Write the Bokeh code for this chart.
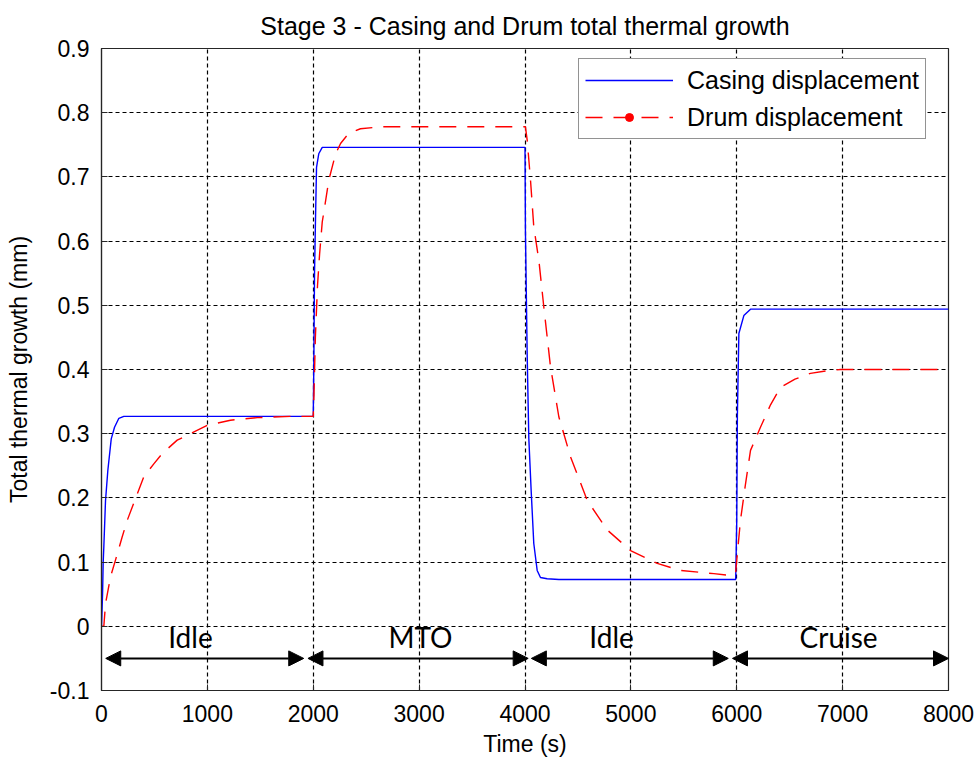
from bokeh.plotting import figure
from bokeh.models import (ColumnDataSource, Legend, LegendItem, Arrow, NormalHead,
                          FixedTicker, Range1d)
from bokeh.core.properties import value
from bokeh.embed import file_html
from bokeh.resources import INLINE

# ---------------- data ----------------
casing_t = [0, 10, 16, 22, 38, 60, 92, 123, 164, 211, 2000, 2005, 2012, 2021, 2031,
            2052, 2085, 4000, 4004, 4021, 4036, 4058, 4083, 4115, 4146, 4209, 4320,
            5990, 6000, 6006, 6020, 6067, 6130, 8000]
casing_mm = [0.0, 0.05, 0.10, 0.124, 0.196, 0.243, 0.292, 0.310, 0.324, 0.327, 0.327,
             0.40, 0.55, 0.632, 0.715, 0.736, 0.746, 0.746, 0.617, 0.419, 0.293, 0.212,
             0.129, 0.087, 0.076, 0.074, 0.073, 0.073, 0.165, 0.33, 0.456, 0.484, 0.494,
             0.494]

drum_t = [0, 22, 38, 85, 132, 195, 243, 321, 400, 494, 573, 715, 841, 998, 1218, 1470,
          1785, 2000, 2005, 2020, 2040, 2060, 2085, 2100, 2147, 2211, 2258, 2336, 2446,
          2635, 4000, 4004, 4021, 4052, 4083, 4131, 4178, 4241, 4320, 4430, 4588, 4777,
          4997, 5249, 5469, 5784, 5957, 5990, 6035, 6083, 6130, 6224, 6319, 6413, 6550,
          6696, 6850, 6980, 8000]
drum_mm = [0.0, 0.0, 0.035, 0.077, 0.103, 0.139, 0.165, 0.199, 0.233, 0.253, 0.269,
           0.290, 0.300, 0.313, 0.321, 0.325, 0.327, 0.327, 0.35, 0.45, 0.53, 0.58,
           0.63, 0.645, 0.695, 0.736, 0.752, 0.768, 0.775, 0.778, 0.778, 0.778, 0.757,
           0.695, 0.622, 0.570, 0.497, 0.404, 0.326, 0.264, 0.196, 0.150, 0.118, 0.098,
           0.087, 0.082, 0.079, 0.085, 0.165, 0.222, 0.274, 0.310, 0.345, 0.372, 0.385,
           0.394, 0.398, 0.400, 0.400]

phase_names = ["Idle", "MTO", "Idle", "Cruise"]
phase_start = [40, 1950, 4060, 5960]
phase_end = [1910, 4030, 5920, 8000]
phase_label_x = [840, 3013, 4818, 6962]
phase_label_y = [-0.017, -0.017, -0.017, -0.017]
phase_arrow_y = -0.05

x_ticks = [0, 1000, 2000, 3000, 4000, 5000, 6000, 7000, 8000]
x_tick_labels = ["0", "1000", "2000", "3000", "4000", "5000", "6000", "7000", "8000"]
y_ticks = [-0.1, 0.0, 0.1, 0.2, 0.3, 0.4, 0.5, 0.6, 0.7, 0.8, 0.9]
y_tick_labels = ["-0.1", "0", "0.1", "0.2", "0.3", "0.4", "0.5", "0.6", "0.7", "0.8", "0.9"]

FONT = "Liberation Sans"

p = figure(width=979, height=760, output_backend="svg", toolbar_location=None,
           x_range=Range1d(0, 8000), y_range=Range1d(-0.1, 0.9),
           min_border_left=101, min_border_right=31, min_border_top=48, min_border_bottom=70,
           title="Stage 3 - Casing and Drum total thermal growth")

p.title.align = "center"
p.title.text_font = FONT
p.title.text_font_size = "25px"
p.title.text_font_style = "normal"
p.title.text_color = "#000000"
p.title.standoff = 18

casing_r = p.line(casing_t, casing_mm, line_color="#0000FF", line_width=1.4)
drum_r = p.line(drum_t, drum_mm, line_color="#FF0000", line_width=1.4, line_dash="17 11")
dot_src = ColumnDataSource(data=dict(x=[float("nan")], y=[float("nan")]))
dot_r = p.scatter("x", "y", source=dot_src, size=4, color="#FF0000")

# grid
for g in (p.xgrid, p.ygrid):
    g.grid_line_color = "#000000"
    g.grid_line_dash = "4 3"
    g.grid_line_width = 1.2
    g.grid_line_alpha = 1.0
p.xgrid.ticker = FixedTicker(ticks=x_ticks)
p.ygrid.ticker = FixedTicker(ticks=y_ticks)

# axes
p.xaxis.ticker = FixedTicker(ticks=x_ticks)
p.yaxis.ticker = FixedTicker(ticks=y_ticks)
p.xaxis.major_label_overrides = {t: l for t, l in zip(x_ticks, x_tick_labels)}
p.yaxis.major_label_overrides = {t: l for t, l in zip(y_ticks, y_tick_labels)}
p.xaxis.axis_label = "Time (s)"
p.yaxis.axis_label = "Total thermal growth (mm)"
for ax in (p.xaxis, p.yaxis):
    ax.axis_line_color = "#262626"
    ax.axis_line_width = 1.2
    ax.major_tick_in = 6
    ax.major_tick_out = 0
    ax.minor_tick_line_color = None
    ax.major_tick_line_color = "#262626"
    ax.major_label_text_font = FONT
    ax.major_label_text_font_size = "23px"
    ax.major_label_text_color = "#000000"
    ax.axis_label_text_font = FONT
    ax.axis_label_text_font_size = "23px"
    ax.axis_label_text_font_style = "normal"
    ax.axis_label_text_color = "#000000"
p.xaxis.major_label_standoff = 14
p.xaxis.axis_label_standoff = 6
p.yaxis.major_label_standoff = 12
p.yaxis.axis_label_standoff = 15

p.outline_line_color = "#262626"
p.outline_line_width = 1.2
p.outline_line_alpha = 1.0

# phase arrows and labels
for xs, xe in zip(phase_start, phase_end):
    p.add_layout(Arrow(x_start=xs, y_start=phase_arrow_y, x_end=xe, y_end=phase_arrow_y,
                       line_color="black", line_width=2,
                       start=NormalHead(size=15, fill_color="black", line_color="black"),
                       end=NormalHead(size=15, fill_color="black", line_color="black")))
p.text(x=phase_label_x, y=phase_label_y, text=phase_names, text_font=value("Lato"),
       text_font_size="28px", text_align="center", text_baseline="middle", text_color="black")

legend = Legend(items=[LegendItem(label="Casing displacement", renderers=[casing_r]),
                       LegendItem(label="Drum displacement", renderers=[drum_r, dot_r])],
                location=(477, 551), orientation="vertical")
legend.label_text_font = FONT
legend.label_text_font_size = "25px"
legend.label_text_color = "#000000"
legend.glyph_width = 88
legend.glyph_height = 20
legend.label_height = 30
legend.label_standoff = 14
legend.spacing = 7
legend.padding = 6
legend.margin = 0
legend.border_line_color = "#262626"
legend.border_line_width = 1.2
legend.background_fill_color = "white"
legend.background_fill_alpha = 1.0
p.add_layout(legend, "center")

open("out.html", "w").write(file_html(p, INLINE))
